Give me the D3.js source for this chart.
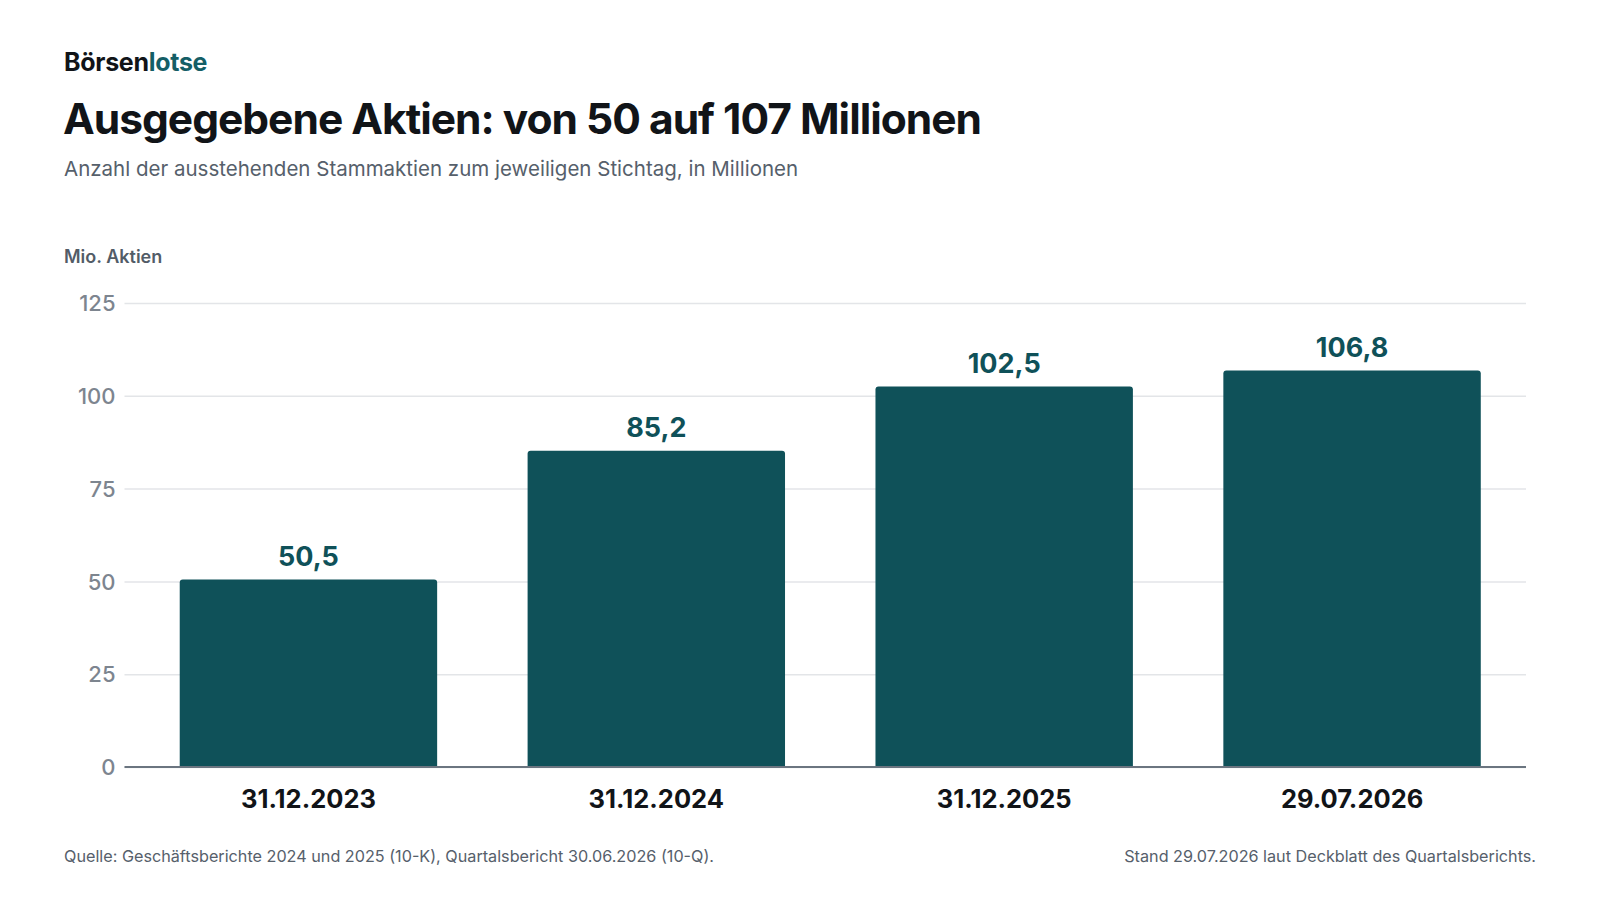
<!DOCTYPE html>
<html>
<head>
<meta charset="utf-8">
<script src="https://cdn.jsdelivr.net/npm/d3@7"></script>
<style>
  body { margin: 0; background: #fff; font-family: Inter, "Noto Sans", sans-serif; }
</style>
</head>
<body>
<div id="chart"></div>
<script>
// Data
const dates = ['31.12.2023', '31.12.2024', '31.12.2025', '29.07.2026'];
const shares = [50.5, 85.2, 102.5, 106.8];
const yTicks = [0, 25, 50, 75, 100, 125];

const W = 1600, H = 900;
const teal = '#0f5159';
const fmt = v => v.toFixed(1).replace('.', ',');

const svg = d3.select('#chart')
    .append('svg')
        .attr('width', W)
        .attr('height', H)
        .style('font-family', 'Inter, "Noto Sans", sans-serif');

// Header
const logo = svg.append('text')
    .attr('x', 64).attr('y', 71)
    .style('font-size', '25px')
    .style('font-weight', 700)
    .style('letter-spacing', '-0.3px');
logo.append('tspan').attr('fill', '#111418').text('Börsen');
logo.append('tspan').attr('fill', '#145e66').text('lotse');

svg.append('text')
    .attr('x', 63).attr('y', 134)
    .attr('fill', '#111418')
    .style('font-size', '42.5px')
    .style('font-weight', 700)
    .style('letter-spacing', '-1px')
    .text('Ausgegebene Aktien: von 50 auf 107 Millionen');

svg.append('text')
    .attr('x', 64).attr('y', 176)
    .attr('fill', '#56606b')
    .style('font-size', '20.5px')
    .text('Anzahl der ausstehenden Stammaktien zum jeweiligen Stichtag, in Millionen');

svg.append('text')
    .attr('x', 64).attr('y', 263)
    .attr('fill', '#525c67')
    .style('font-size', '18px')
    .style('font-weight', 600)
    .text('Mio. Aktien');

// Scales
const y = d3.scaleLinear()
    .domain([0, 125])
    .range([767, 303]);

const x = d3.scaleBand()
    .domain(dates)
    .range([134.5, 1526])
    .paddingInner(0.26)
    .paddingOuter(0.13);

// Gridlines + tick labels
const gridLeft = 124.5;
const grid = svg.append('g')
    .attr('transform', `translate(${gridLeft},0)`)
    .call(d3.axisLeft(y).tickValues(yTicks).tickSize(-(1526 - gridLeft)).tickFormat(d => d));
grid.select('.domain').remove();
grid.selectAll('.tick line')
    .attr('stroke', '#e3e5e8')
    .attr('stroke-width', 1.5);
grid.selectAll('.tick text')
    .attr('x', -9)
    .attr('dy', '0.35em')
    .attr('fill', '#7d858f')
    .style('font-size', '22px')
    .style('font-weight', 500)
    .style('font-family', 'Inter, "Noto Sans", sans-serif');

// Bars (rounded top corners)
const r = 3;
svg.append('g')
    .selectAll('path')
    .data(shares)
    .enter()
    .append('path')
        .attr('fill', teal)
        .attr('d', (d, i) => {
            const x0 = x(dates[i]), w = x.bandwidth();
            const y0 = y(d), y1 = y(0);
            return `M${x0},${y1}V${y0 + r}Q${x0},${y0} ${x0 + r},${y0}H${x0 + w - r}Q${x0 + w},${y0} ${x0 + w},${y0 + r}V${y1}Z`;
        });

// Baseline
svg.append('line')
    .attr('x1', gridLeft).attr('x2', 1526)
    .attr('y1', y(0)).attr('y2', y(0))
    .attr('stroke', '#6b7580')
    .attr('stroke-width', 2);

// Value labels
svg.append('g')
    .selectAll('text')
    .data(shares)
    .enter()
    .append('text')
        .attr('x', (d, i) => x(dates[i]) + x.bandwidth() / 2)
        .attr('y', d => y(d) - 14)
        .attr('text-anchor', 'middle')
        .attr('fill', teal)
        .style('font-size', '27px')
        .style('font-weight', 700)
        .text(fmt);

// Category labels
const xAxis = svg.append('g')
    .attr('transform', `translate(0,${y(0)})`)
    .call(d3.axisBottom(x).tickSize(0));
xAxis.select('.domain').remove();
xAxis.selectAll('.tick text')
    .attr('y', 41)
    .attr('dy', 0)
    .attr('fill', '#111418')
    .style('font-size', '25.5px')
    .style('font-weight', 700)
    .style('font-family', 'Inter, "Noto Sans", sans-serif');

// Footer
svg.append('text')
    .attr('x', 64).attr('y', 862)
    .attr('fill', '#56606b')
    .style('font-size', '16.2px')
    .text('Quelle: Geschäftsberichte 2024 und 2025 (10-K), Quartalsbericht 30.06.2026 (10-Q).');

svg.append('text')
    .attr('x', 1536).attr('y', 862)
    .attr('text-anchor', 'end')
    .attr('fill', '#56606b')
    .style('font-size', '16.2px')
    .text('Stand 29.07.2026 laut Deckblatt des Quartalsberichts.');
</script>
</body>
</html>
